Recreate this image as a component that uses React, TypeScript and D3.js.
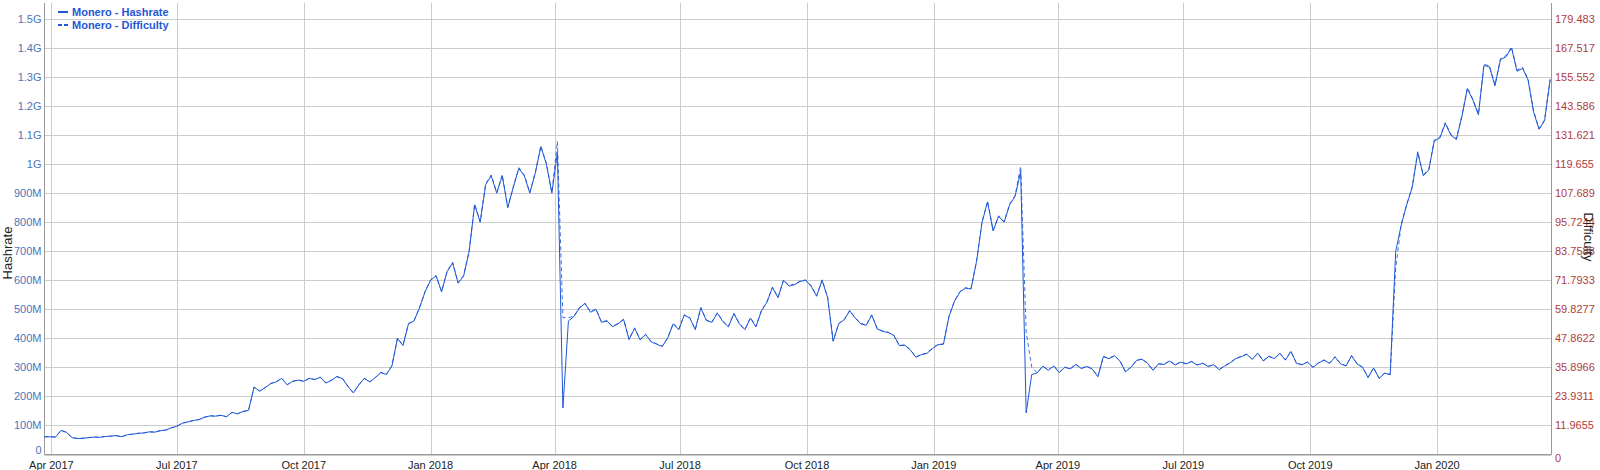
import React from 'react';
import * as d3 from 'd3';

// ---------- DATA ----------
// Samples every 4 days starting 2017-03-27
const START_DATE = '2017-03-27';
const END_DATE = '2020-03-24';
const STEP_DAYS = 4;

// Monero network hashrate, MH/s
const hashrate2017 = [
  61, 61, 60, 83, 76, 58, 55, 56, 58, 60,
  59, 62, 63, 65, 61, 68, 70, 73, 74, 78,
  77, 82, 84, 92, 97, 108, 112, 117, 120, 128,
  133, 132, 135, 130, 145, 140, 148, 152, 232, 218,
  230, 244, 250, 262, 240, 252, 256, 252, 262, 258,
  266, 246, 255, 268, 262, 235, 212, 240, 262, 250,
  265, 282, 276, 305, 400, 375, 450, 460, 505, 560,
];
const hashrate2018 = [
  600, 615, 560, 630, 660, 590, 615, 700, 860, 800,
  930, 960, 900, 960, 850, 920, 985, 960, 900, 970,
  1060, 1000, 900, 1040, 160, 460, 475, 505, 520, 490,
  500, 455, 460, 440, 450, 465, 396, 435, 395, 413,
  388, 380, 372, 401, 450, 430, 480, 470, 430, 505,
  462, 455, 487, 458, 440, 485, 450, 430, 470, 440,
  495, 525, 575, 540, 600, 580, 585, 596, 600, 580,
  545, 600, 540, 390, 450, 464, 495, 470, 450, 445,
  480, 432, 424, 420, 410, 375, 376, 360, 335, 344,
  348, 365,
];
const hashrate2019 = [
  378, 380, 475, 528, 560, 573, 570, 665,
  800, 870, 770, 820, 800, 860, 890, 975, 143, 275,
  281, 304, 290, 305, 282, 300, 295, 310, 296, 303,
  294, 268, 337, 330, 340, 322, 285, 300, 324, 328,
  314, 290, 312, 310, 322, 308, 318, 312, 320, 308,
  314, 303, 309, 292, 305, 316, 330, 337, 345, 328,
  349, 322, 338, 330, 348, 325, 355, 314, 309, 318,
  300, 315, 325, 314, 336, 312, 305, 340, 312, 300,
  265, 298, 262, 280, 275, 700, 790, 860, 920, 1040,
  960, 980, 1080,
];
const hashrate2020 = [
  1090, 1140, 1100, 1085, 1164, 1260, 1220, 1170, 1340, 1335,
  1270, 1360, 1370, 1400, 1320, 1330, 1290, 1180, 1120, 1150, 1290,
];

// Monero difficulty, expressed as implied hashrate (difficulty / 120 s), MH/s
const difficulty2017 = [
  61, 61, 60, 83, 76, 58, 55, 56, 58, 60,
  59, 62, 63, 65, 61, 68, 70, 73, 74, 78,
  77, 82, 84, 92, 97, 108, 112, 117, 120, 128,
  133, 132, 135, 130, 145, 140, 148, 152, 232, 218,
  230, 244, 250, 262, 240, 252, 256, 252, 262, 258,
  266, 246, 255, 268, 262, 235, 212, 240, 262, 250,
  265, 282, 276, 305, 400, 375, 450, 460, 505, 560,
];
const difficulty2018 = [
  600, 615, 560, 630, 660, 590, 615, 700, 860, 800,
  930, 960, 900, 960, 850, 920, 985, 960, 900, 970,
  1060, 1000, 900, 1075, 470, 470, 475, 505, 520, 490,
  500, 455, 460, 440, 450, 465, 396, 435, 395, 413,
  388, 380, 372, 401, 450, 430, 480, 470, 430, 505,
  462, 455, 487, 458, 440, 485, 450, 430, 470, 440,
  495, 525, 575, 540, 600, 580, 585, 596, 600, 580,
  545, 600, 540, 390, 450, 464, 495, 470, 450, 445,
  480, 432, 424, 420, 410, 375, 376, 360, 335, 344,
  348, 365,
];
const difficulty2019 = [
  378, 380, 475, 528, 560, 573, 570, 665,
  800, 870, 770, 820, 800, 860, 890, 990, 420, 300,
  281, 304, 290, 305, 282, 300, 295, 310, 296, 303,
  294, 268, 337, 330, 340, 322, 285, 300, 324, 328,
  314, 290, 312, 310, 322, 308, 318, 312, 320, 308,
  314, 303, 309, 292, 305, 316, 330, 337, 345, 328,
  349, 322, 338, 330, 348, 325, 355, 314, 309, 318,
  300, 315, 325, 314, 336, 312, 305, 340, 312, 300,
  265, 298, 262, 280, 275, 640, 790, 860, 920, 1040,
  960, 980, 1080,
];
const difficulty2020 = [
  1090, 1140, 1100, 1085, 1164, 1260, 1220, 1170, 1340, 1335,
  1270, 1360, 1370, 1400, 1320, 1330, 1290, 1180, 1120, 1150, 1290,
];

const leftTickValues = [0, 100, 200, 300, 400, 500, 600, 700, 800, 900, 1000, 1100, 1200, 1300, 1400, 1500];
const leftTickLabels = ['0', '100M', '200M', '300M', '400M', '500M', '600M', '700M', '800M', '900M', '1G', '1.1G', '1.2G', '1.3G', '1.4G', '1.5G'];
const rightTickLabels = ['0', '11.9655', '23.9311', '35.8966', '47.8622', '59.8277', '71.7933', '83.7588', '95.7244', '107.689', '119.655', '131.621', '143.586', '155.552', '167.517', '179.483'];
const xTickDates = ['2017-04-01', '2017-07-01', '2017-10-01', '2018-01-01', '2018-04-01', '2018-07-01', '2018-10-01', '2019-01-01', '2019-04-01', '2019-07-01', '2019-10-01', '2020-01-01'];
const xTickLabels = ['Apr 2017', 'Jul 2017', 'Oct 2017', 'Jan 2018', 'Apr 2018', 'Jul 2018', 'Oct 2018', 'Jan 2019', 'Apr 2019', 'Jul 2019', 'Oct 2019', 'Jan 2020'];

const SERIES_NAMES = ['Monero - Hashrate', 'Monero - Difficulty'];

// ---------- CHART ----------
const W = 1600;
const H = 470;
const FONT = '"Liberation Sans", Arial, sans-serif';
const LINE_COLOR = '#1f57d6';
const LEFT_COLOR = '#4d73b8';
const RIGHT_COLOR = '#b03c3c';
const GRID = '#cccccc';

export default function App() {
  const parse = d3.timeParse('%Y-%m-%d');
  const start = parse(START_DATE) as Date;
  const end = parse(END_DATE) as Date;

  const plot = { left: 44.5, right: 1551.5, top: 3, bottom: 454.5 };

  const x = d3.scaleTime().domain([start, end]).range([plot.left, plot.right]);
  const yLeft = d3.scaleLinear().domain([0, 1500]).range([454.5, 19]);
  const rightMax = parseFloat(rightTickLabels[rightTickLabels.length - 1]);
  const yRight = d3.scaleLinear().domain([0, rightMax]).range([454.5, 19]);

  const hashrate = [...hashrate2017, ...hashrate2018, ...hashrate2019, ...hashrate2020];
  const difficulty = [...difficulty2017, ...difficulty2018, ...difficulty2019, ...difficulty2020];

  const hashPts = hashrate.map((v, i) => ({ date: d3.timeDay.offset(start, i * STEP_DAYS), v }));
  // difficulty in G = implied MH/s * 120 s / 1000
  const diffPts = difficulty.map((v, i) => ({ date: d3.timeDay.offset(start, i * STEP_DAYS), v: (v * 120) / 1000 }));

  const hashLine = d3
    .line<{ date: Date; v: number }>()
    .x((d) => x(d.date))
    .y((d) => yLeft(d.v));
  const diffLine = d3
    .line<{ date: Date; v: number }>()
    .x((d) => x(d.date))
    .y((d) => yRight(d.v));

  const xTicks = xTickDates.map((s) => parse(s) as Date);

  return (
    <svg
      width={W}
      height={H}
      style={{ position: 'absolute', left: 0, top: 0, background: '#fff' }}
      fontFamily={FONT}
    >
      <rect x={0} y={0} width={W} height={H} fill="#fff" />

      {/* horizontal gridlines */}
      {leftTickValues.map((v) => (
        <line
          key={'hg' + v}
          x1={plot.left}
          x2={plot.right}
          y1={Math.round(yLeft(v)) + 0.5}
          y2={Math.round(yLeft(v)) + 0.5}
          stroke={GRID}
          strokeWidth={1}
        />
      ))}
      {/* vertical gridlines */}
      {xTicks.map((d, i) => (
        <line
          key={'vg' + i}
          x1={Math.round(x(d)) + 0.5}
          x2={Math.round(x(d)) + 0.5}
          y1={plot.top}
          y2={plot.bottom}
          stroke={GRID}
          strokeWidth={1}
        />
      ))}

      {/* axes lines */}
      <line x1={plot.left} x2={plot.left} y1={plot.top} y2={plot.bottom} stroke="#999" strokeWidth={1} />
      <line x1={plot.right} x2={plot.right} y1={plot.top} y2={plot.bottom} stroke="#999" strokeWidth={1} />
      <line x1={plot.left} x2={plot.right} y1={plot.bottom} y2={plot.bottom} stroke="#999" strokeWidth={1} />

      {/* series */}
      <path d={diffLine(diffPts) || ''} fill="none" stroke={LINE_COLOR} strokeWidth={1} strokeDasharray="4,3" strokeOpacity={0.85} />
      <path d={hashLine(hashPts) || ''} fill="none" stroke={LINE_COLOR} strokeWidth={1} strokeLinejoin="round" />

      {/* left tick labels */}
      {leftTickValues.map((v, i) => (
        <text
          key={'lt' + v}
          x={41.5}
          y={yLeft(v) + (v === 0 ? -4 : 0)}
          dy="0.35em"
          textAnchor="end"
          fontSize={11}
          fill={LEFT_COLOR}
        >
          {leftTickLabels[i]}
        </text>
      ))}
      {/* right tick labels */}
      {rightTickLabels.map((lab) => {
        const v = parseFloat(lab);
        return (
          <text
            key={'rt' + lab}
            x={1555}
            y={yRight(v) + (v === 0 ? 4 : 0)}
            dy="0.35em"
            textAnchor="start"
            fontSize={11}
            fill={RIGHT_COLOR}
          >
            {lab}
          </text>
        );
      })}
      {/* x tick labels */}
      {xTicks.map((d, i) => (
        <text key={'xt' + i} x={x(d)} y={469} textAnchor="middle" fontSize={11} fill="#222">
          {xTickLabels[i]}
        </text>
      ))}

      {/* axis titles */}
      <text
        transform={`translate(12,253) rotate(-90)`}
        textAnchor="middle"
        fontSize={13}
        fill="#222"
      >
        Hashrate
      </text>
      <text
        transform={`translate(1584,237) rotate(90)`}
        textAnchor="middle"
        fontSize={13}
        fill="#222"
      >
        Difficulty
      </text>

      {/* legend */}
      <line x1={58} x2={68} y1={12} y2={12} stroke={LINE_COLOR} strokeWidth={2} />
      <text x={72} y={16} fontSize={11} fontWeight="bold" fill={LINE_COLOR}>
        {SERIES_NAMES[0]}
      </text>
      <line x1={58} x2={68} y1={25} y2={25} stroke={LINE_COLOR} strokeWidth={2} strokeDasharray="4,2" />
      <text x={72} y={29} fontSize={11} fontWeight="bold" fill={LINE_COLOR}>
        {SERIES_NAMES[1]}
      </text>
    </svg>
  );
}
